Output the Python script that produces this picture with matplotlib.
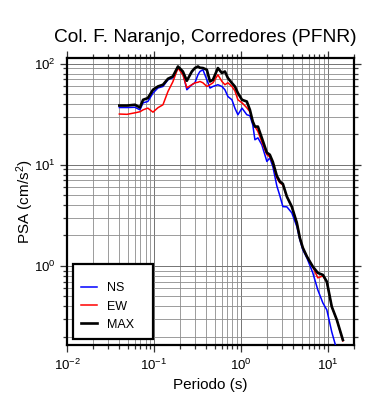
import matplotlib
matplotlib.use("Agg")
import matplotlib.pyplot as plt
from matplotlib.ticker import LogLocator, NullFormatter

plt.rcParams['font.family'] = ['Liberation Sans', 'DejaVu Sans']
plt.rcParams['mathtext.fontset'] = 'custom'
plt.rcParams['mathtext.rm'] = 'Liberation Sans'
plt.rcParams['mathtext.it'] = 'Liberation Sans:italic'
plt.rcParams['mathtext.bf'] = 'Liberation Sans:bold'

title = "Col. F. Naranjo, Corredores (PFNR)"
xlabel = "Periodo (s)"
ylabel = "PSA (cm/s$^2$)"
series_names = ["NS", "EW", "MAX"]
series_colors = ["#0000ff", "#ff0000", "#000000"]

period = [0.040, 0.049, 0.0605, 0.069, 0.075, 0.085, 0.0975, 0.111, 0.127, 0.145,
          0.165, 0.189, 0.215, 0.239, 0.273, 0.296, 0.321, 0.338, 0.366, 0.406,
          0.441, 0.477, 0.544, 0.605, 0.655, 0.709, 0.789, 0.853, 0.924, 1.03,
          1.17, 1.27, 1.37, 1.45, 1.57, 1.74, 1.99, 2.15, 2.33, 2.59,
          2.81, 3.04, 3.38, 3.85, 4.40, 4.77, 5.16, 5.74, 6.72, 7.67,
          8.77, 9.74, 11.1, 12.7, 14.9]

ns = [36.9, 36.9, 37.1, 35.0, 41.1, 42.3, 51.3, 57.5, 59.6, 69.4,
      72.7, 90.7, 81.5, 55.3, 62.0, 64.8, 77.8, 83.9, 87.2, 69.4,
      57.5, 59.6, 62.0, 59.6, 55.3, 47.4, 44.0, 36.4, 31.3, 36.4,
      31.3, 30.6, 24.9, 17.7, 18.5, 15.8, 10.8, 11.7, 9.62, 6.20,
      4.93, 3.86, 3.84, 3.35, 2.45, 1.81, 1.44, 1.20, 0.853, 0.579,
      0.430, 0.367, 0.222, 0.147, 0.100]

ew = [31.8, 31.6, 32.7, 33.5, 35.0, 36.4, 33.2, 36.7, 39.3, 53.2,
      66.3, 90.7, 77.8, 57.9, 62.0, 64.8, 65.6, 66.8, 64.8, 59.6,
      62.0, 64.8, 77.8, 66.8, 62.0, 64.8, 59.6, 54.0, 44.0, 41.1,
      36.7, 33.5, 26.8, 23.9, 21.4, 16.9, 12.6, 12.0, 10.5, 7.43,
      6.63, 6.34, 4.82, 3.84, 2.67, 1.89, 1.51, 1.24, 0.977, 0.761,
      0.796, 0.694, 0.393, 0.292, 0.181]

mx = [38.6, 38.6, 39.3, 36.9, 44.0, 45.7, 55.3, 59.6, 62.0, 71.0,
      74.9, 94.0, 83.9, 67.9, 83.9, 90.7, 94.0, 91.3, 90.7, 87.2,
      66.8, 69.4, 90.7, 80.9, 83.9, 72.2, 64.4, 59.6, 51.3, 44.0,
      42.3, 35.0, 26.8, 23.9, 23.9, 18.5, 13.2, 12.6, 10.7, 7.78,
      6.83, 6.48, 4.85, 3.86, 2.67, 1.89, 1.51, 1.24, 0.984, 0.853,
      0.815, 0.699, 0.395, 0.292, 0.185]

fig = plt.figure(figsize=(3.9, 4.0), dpi=100)
ax = fig.add_axes([67/390, 1-345/400, (354-67)/390, (345-58)/400])

ax.plot(period, ns, color=series_colors[0], lw=1.1, label=series_names[0], zorder=3)
ax.plot(period, ew, color=series_colors[1], lw=1.1, label=series_names[1], zorder=4)
ax.plot(period, mx, color=series_colors[2], lw=1.9, label=series_names[2], zorder=5)

ax.set_xscale('log')
ax.set_yscale('log')
ax.set_xlim(0.01, 20)
ax.set_ylim(0.165, 114)

ax.xaxis.set_major_locator(LogLocator(base=10, numticks=10))
ax.yaxis.set_major_locator(LogLocator(base=10, numticks=10))
ax.xaxis.set_minor_locator(LogLocator(base=10, subs=range(2, 10), numticks=20))
ax.yaxis.set_minor_locator(LogLocator(base=10, subs=range(2, 10), numticks=20))
ax.xaxis.set_minor_formatter(NullFormatter())
ax.yaxis.set_minor_formatter(NullFormatter())

ax.grid(True, which='major', color='0.45', lw=0.7, zorder=0)
ax.grid(True, which='minor', color='0.55', lw=0.6, zorder=0)
ax.set_axisbelow(True)

ax.tick_params(which='both', direction='out', top=True, right=True,
               labelsize=9.5, width=0.9, color='0.2')
ax.tick_params(which='major', length=5)
ax.tick_params(which='minor', length=3)
ax.tick_params(axis='x', pad=4)
ax.tick_params(axis='y', pad=3)

for s in ax.spines.values():
    s.set_linewidth(1.6)
    s.set_color('black')

fig.text(205/390, 1-38/400, title, fontsize=13.8, ha='center', va='center')
ax.set_xlabel(xlabel, fontsize=11, labelpad=4)
ax.set_ylabel(ylabel, fontsize=11, labelpad=-1)

leg = ax.legend(loc='lower left', bbox_to_anchor=(0.021, 0.021, 0.279, 0.25),
                mode='expand', fontsize=9, frameon=True, fancybox=False,
                edgecolor='black', framealpha=1, borderpad=0.65,
                labelspacing=0.5, handlelength=1.3, handletextpad=0.8,
                borderaxespad=0, title=" ", title_fontsize=2.5)
leg.get_frame().set_linewidth(1.6)
leg.set_zorder(10)

fig.savefig("out.png", dpi=100)
